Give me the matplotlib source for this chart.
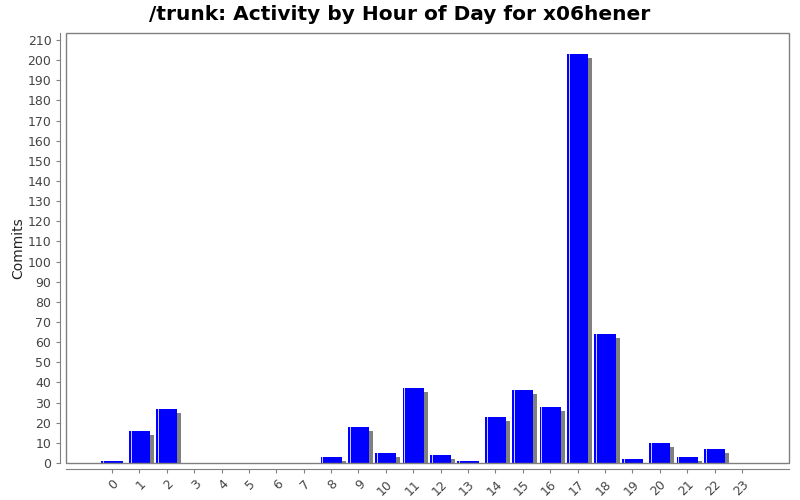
import matplotlib
matplotlib.use("Agg")
import matplotlib.pyplot as plt
from matplotlib.patches import Rectangle

# commits per hour of day
hours = [str(h) for h in range(24)]
commits = [1, 16, 27, 0, 0, 0, 0, 0, 3, 18, 5, 37, 4, 1, 23, 36, 28, 203, 64, 2, 10, 3, 7, 0]
y_ticks = list(range(0, 211, 10))

fig = plt.figure(figsize=(8, 5), dpi=100)
ax = fig.add_axes([66 / 800, 1 - 463 / 500, (789 - 66) / 800, (463 - 33) / 500])

x = list(range(len(hours)))
px = 1 / 27.39  # one pixel in data units along x
py = 1 / 2.014  # one pixel in data units along y
w = 0.77

# shadow, then bar, then highlight stripe at left edge
ax.bar([i + 4 * px for i in x], [max(c - 4 * py, 0) if c > 0 else 0 for c in commits],
       width=w, color="#808080", zorder=2)
ax.bar(x, commits, width=w, color="#0000ff", edgecolor="none", zorder=3)
ax.bar([i - w / 2 + 2.2 * px for i in x], commits, width=1.0 * px,
       color="#c8c8ff", edgecolor="none", zorder=4)

ax.set_xlim(-1.68, 24.72)
ax.set_ylim(0, 213.5)
ax.set_xticks(x)
ax.set_xticklabels(hours)
ax.set_yticks(y_ticks)

for s in ["top", "right"]:
    ax.spines[s].set_visible(False)
for s in ["left", "bottom"]:
    ax.spines[s].set_position(("outward", 4))
    ax.spines[s].set_color("#808080")
ax.add_patch(Rectangle((0, 0), 1, 1, transform=ax.transAxes, fill=False,
                       edgecolor="#808080", linewidth=1, clip_on=False, zorder=5))

ax.tick_params(axis="both", colors="#808080", labelcolor="#444444", labelsize=9, length=3)
ax.tick_params(axis="x", labelrotation=45)
for lbl in ax.get_xticklabels():
    lbl.set_ha("right")
    lbl.set_rotation_mode("anchor")
ax.set_ylabel("Commits", fontsize=10, color="#222222", labelpad=2)
fig.suptitle("/trunk: Activity by Hour of Day for x06hener", fontsize=14.5,
             fontweight="bold", y=0.99)

fig.savefig("out.png", dpi=100)
